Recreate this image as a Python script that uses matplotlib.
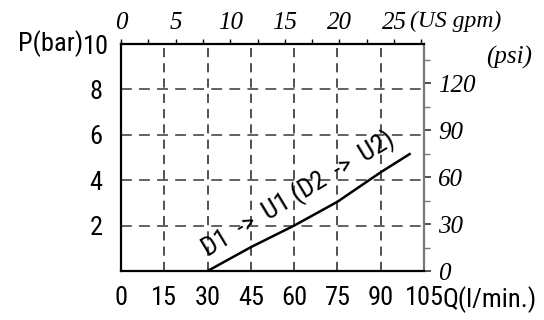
import matplotlib
matplotlib.use("Agg")
import matplotlib.pyplot as plt
from matplotlib import font_manager as fm

# Pressure drop curve: flow Q (l/min) vs pressure P (bar)
flow_lpm = [30, 45, 60, 75, 90, 100]
pressure_bar = [0.0, 1.05, 2.0, 3.05, 4.35, 5.15]

x_ticks = [0, 15, 30, 45, 60, 75, 90, 105]
y_ticks = [2, 4, 6, 8, 10]
x_grid = [15, 30, 45, 60, 75, 90]
y_grid = [2, 4, 6, 8]
gpm_ticks = [0, 5, 10, 15, 20, 25]
psi_ticks = [0, 30, 60, 90, 120]

curve_label = "D1  ->  U1 (D2  ->  U2)"

LPM_PER_GPM = 3.78541
PSI_PER_BAR = 14.5038

installed = {f.name for f in fm.fontManager.ttflist}
sans = [n for n in ["Liberation Sans Narrow", "Roboto Condensed", "DejaVu Sans Condensed"]
        if n in installed] + ["Liberation Sans", "DejaVu Sans"]
serif = ["Liberation Serif", "DejaVu Serif"]

fig = plt.figure(figsize=(5.44, 3.20), dpi=100)
ax = fig.add_axes([121 / 544, 49 / 320, 303 / 544, 227 / 320])
ax.set_xlim(0, 105)
ax.set_ylim(0, 10)

for x in x_grid:
    ax.axvline(x, color="#222222", lw=1.1, ls=(0, (6, 4)), zorder=1)
for y in y_grid:
    ax.axhline(y, color="#555555", lw=1.3, ls=(0, (6, 4)), zorder=1)

ax.plot(flow_lpm, pressure_bar, color="black", lw=1.8, zorder=3)
ax.text(30.2, 0.6, curve_label, rotation=31, rotation_mode="anchor",
        ha="left", va="baseline", fontsize=19, family=sans, zorder=4)

for s in ["left", "bottom", "top"]:
    ax.spines[s].set_linewidth(1.6)
    ax.spines[s].set_color("black")
    ax.spines[s].set_zorder(5)
ax.spines["right"].set_visible(False)

ax.set_xticks(x_ticks)
ax.set_xticklabels([str(v) for v in x_ticks], family=sans, fontsize=19)
ax.set_yticks(y_ticks)
ax.set_yticklabels([str(v) for v in y_ticks], family=sans, fontsize=19, ha="center")
ax.tick_params(axis="x", length=0, pad=11)
ax.tick_params(axis="y", length=0, pad=18)

# US gpm on top
top = ax.secondary_xaxis("top", functions=(lambda q: q / LPM_PER_GPM,
                                            lambda g: g * LPM_PER_GPM))
top.set_xticks(gpm_ticks)
top.set_xticks([2.5, 7.5, 12.5, 17.5, 22.5, 27.5], minor=True)
top.set_xticklabels([str(v) for v in gpm_ticks], family=serif, style="italic", fontsize=18)
top.tick_params(axis="x", which="both", direction="out", length=3.5, width=1, pad=4)
top.spines["top"].set_visible(False)

# psi on right
right = ax.secondary_yaxis("right", functions=(lambda p: p * PSI_PER_BAR,
                                               lambda s: s / PSI_PER_BAR))
right.set_yticks(psi_ticks)
right.set_yticks([15, 45, 75, 105, 135], minor=True)
right.set_yticklabels([str(v) for v in psi_ticks], family=serif, style="italic", fontsize=18)
right.tick_params(axis="y", which="major", direction="out", length=5, width=1.2,
                  color="#333333", pad=5)
right.tick_params(axis="y", which="minor", direction="out", length=4, width=1,
                  color="#777777")
right.spines["right"].set_color("#777777")
right.spines["right"].set_linewidth(1.6)

fig.text(83 / 544, 1 - 44 / 320, "P(bar)", family=sans, fontsize=19,
         ha="right", va="center")
fig.text(442 / 544, 1 - 300 / 320, "Q(l/min.)", family=sans, fontsize=19,
         ha="left", va="center")
fig.text(410 / 544, 1 - 21 / 320, "(US gpm)", family=serif, style="italic",
         fontsize=17, ha="left", va="center")
fig.text(509 / 544, 1 - 57 / 320, "(psi)", family=serif, style="italic",
         fontsize=18, ha="center", va="center")

fig.savefig("out.png", dpi=100)
